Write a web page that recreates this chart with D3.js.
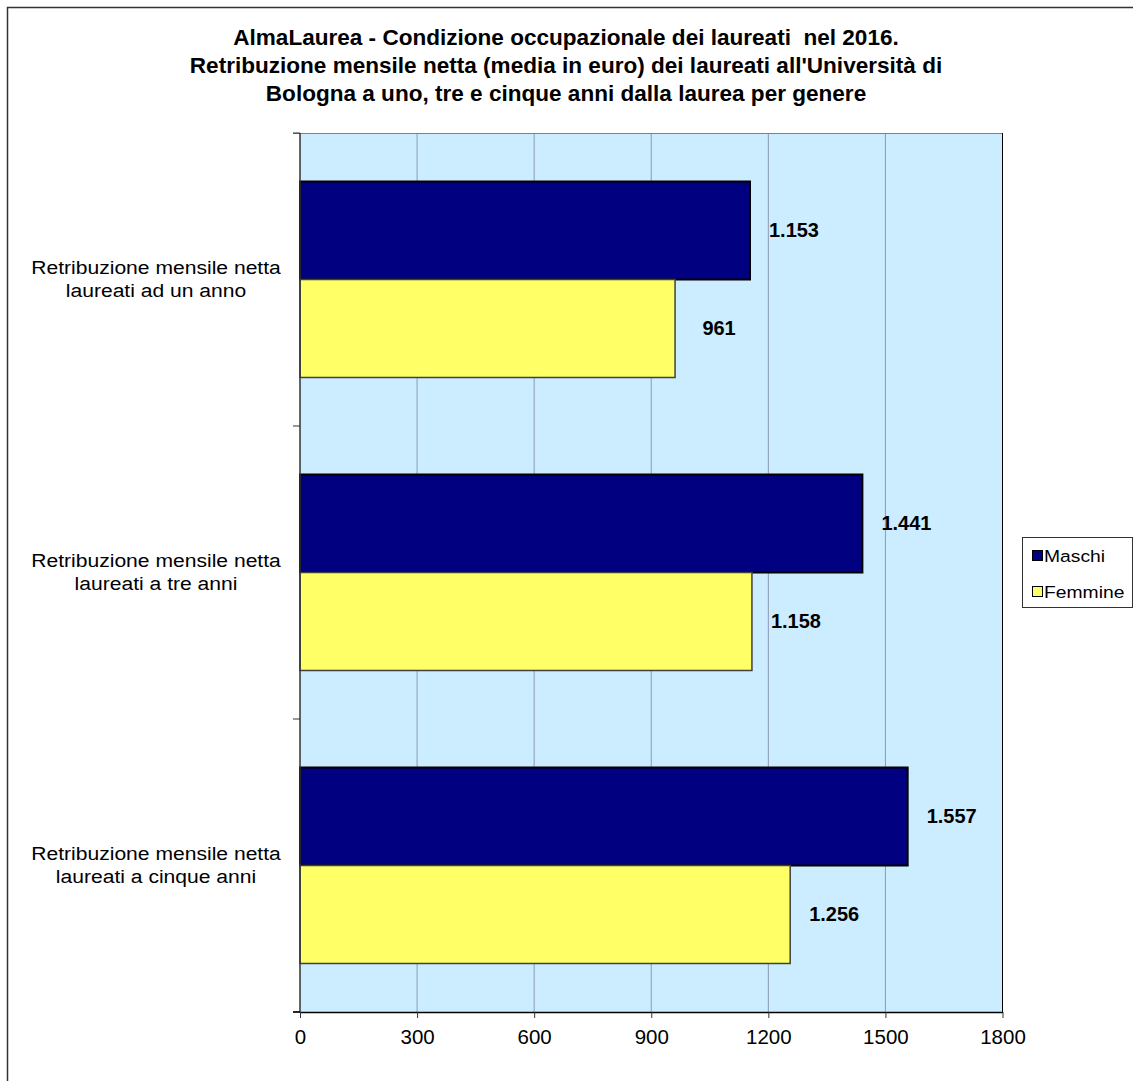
<!DOCTYPE html>
<html><head><meta charset="utf-8">
<script src="https://cdn.jsdelivr.net/npm/d3@7"></script>
<style>
body{margin:0;background:#fff}
svg{display:block}
text{font-family:"Liberation Sans",Arial,sans-serif;fill:#000;white-space:pre}
</style>
</head><body>
<svg id="chart" width="1133" height="1081"></svg>
<script>
// ---- data ----
const titleLines = [
  "AlmaLaurea - Condizione occupazionale dei laureati  nel 2016.",
  "Retribuzione mensile netta (media in euro) dei laureati all'Università di",
  "Bologna a uno, tre e cinque anni dalla laurea per genere"
];
const categories = [
  ["Retribuzione mensile netta", "laureati ad un anno"],
  ["Retribuzione mensile netta", "laureati a tre anni"],
  ["Retribuzione mensile netta", "laureati a cinque anni"]
];
const seriesNames = ["Maschi", "Femmine"];
const maschi = [1153, 1441, 1557];
const femmine = [961, 1158, 1256];
const xTicks = [0, 300, 600, 900, 1200, 1500, 1800];
const seriesColors = ["#000080", "#FFFF66"];
const seriesStroke = ["#000000", "#404040"];

// ---- layout ----
const W = 1133, H = 1081;
const plot = {left: 300, right: 1002.5, top: 133, bottom: 1012};
const svg = d3.select("#chart");

const fmt = d3.formatLocale({decimal: ",", thousands: ".", grouping: [3], currency: ["€", ""]}).format(",d");

function sText(g, x, y, str, opt) {
  return g.append("text")
    .attr("transform", `translate(${x},${y}) scale(${opt.sx || 1},1)`)
    .attr("text-anchor", opt.anchor || "start")
    .attr("font-size", opt.size)
    .attr("font-weight", opt.bold ? "bold" : "normal")
    .attr("dy", opt.dy || 0)
    .text(str);
}

// outer frame (extends beyond the visible area on right/bottom)
svg.append("rect").attr("x", 7.5).attr("y", 7.5).attr("width", W + 50).attr("height", H + 50)
  .attr("fill", "#fff").attr("stroke", "#333").attr("stroke-width", 1.5);

// scales
const catKeys = categories.map((c, i) => "c" + i);
const x = d3.scaleLinear().domain([0, 1800]).range([plot.left, plot.right]);
const y0 = d3.scaleBand().domain(catKeys).range([plot.top, plot.bottom]).padding(0);
const y1 = d3.scaleBand().domain(seriesNames).range([0, y0.bandwidth()]).paddingInner(0).paddingOuter(0.495);

// plot background
svg.append("rect").attr("x", plot.left).attr("y", plot.top)
  .attr("width", plot.right - plot.left).attr("height", plot.bottom - plot.top)
  .attr("fill", "#CCECFF");

// gridlines
svg.append("g").selectAll("line").data(xTicks.filter(t => t > 0 && t < 1800)).join("line")
  .attr("x1", d => x(d)).attr("x2", d => x(d))
  .attr("y1", plot.top).attr("y2", plot.bottom)
  .attr("stroke", "#8A9BB2").attr("stroke-width", 1);

// plot border top/right
svg.append("line").attr("x1", plot.left - 7).attr("x2", plot.right).attr("y1", plot.top + 0.5).attr("y2", plot.top + 0.5)
  .attr("stroke", "#808080").attr("stroke-width", 1);
svg.append("line").attr("x1", plot.right).attr("x2", plot.right).attr("y1", plot.top).attr("y2", plot.bottom)
  .attr("stroke", "#000").attr("stroke-width", 1);

// bars
const series = [maschi, femmine];
const groups = svg.append("g").selectAll("g").data(catKeys).join("g")
  .attr("transform", d => `translate(0,${y0(d)})`);
groups.selectAll("rect").data((d, i) => seriesNames.map((s, j) => ({s, j, v: series[j][i]}))).join("rect")
  .attr("x", x(0))
  .attr("y", d => y1(d.s))
  .attr("width", d => x(d.v) - x(0))
  .attr("height", y1.bandwidth())
  .attr("fill", d => seriesColors[d.j])
  .attr("stroke", d => seriesStroke[d.j])
  .attr("stroke-width", d => d.j === 0 ? 2 : 1.5);

// value labels
groups.each(function(k, i) {
  const g = d3.select(this);
  seriesNames.forEach((s, j) => {
    const v = series[j][i];
    sText(g, x(v) + 44, y1(s) + y1.bandwidth() / 2, fmt(v), {size: 19.4, bold: true, sx: 1.03, anchor: "middle", dy: "0.36em"});
  });
});

// category axis (left)
svg.append("line").attr("x1", plot.left).attr("x2", plot.left).attr("y1", plot.top).attr("y2", plot.bottom)
  .attr("stroke", "#333").attr("stroke-width", 1.5);
const catTicks = catKeys.map(k => y0(k)).concat([y0.range()[1]]);
svg.append("g").selectAll("line").data(catTicks).join("line")
  .attr("x1", plot.left - 7).attr("x2", plot.left)
  .attr("y1", d => d).attr("y2", d => d)
  .attr("stroke", "#333").attr("stroke-width", 1);

// category labels
categories.forEach((lines, i) => {
  const cy = y0(catKeys[i]) + y0.bandwidth() / 2;
  lines.forEach((ln, li) => {
    sText(svg, 156, cy - 6 + li * 23, ln, {size: 19, sx: 1.11, anchor: "middle"});
  });
});

// x axis
const xAxis = d3.axisBottom(x).tickValues(xTicks).tickSizeInner(6).tickSizeOuter(0).tickPadding(11.5).tickFormat(d3.format("d"));
const xg = svg.append("g").attr("transform", `translate(0,${plot.bottom})`).call(xAxis);
xg.select(".domain").attr("stroke", "#000").attr("stroke-width", 1.5);
xg.selectAll(".tick line").attr("stroke", "#333");
xg.selectAll(".tick text").attr("font-size", 20.5).attr("font-family", '"Liberation Sans",Arial,sans-serif').attr("fill", "#000");
svg.append("line").attr("x1", plot.left - 7).attr("x2", plot.left).attr("y1", plot.bottom).attr("y2", plot.bottom)
  .attr("stroke", "#000").attr("stroke-width", 1.5);

// title
titleLines.forEach((t, i) => {
  sText(svg, 566, 45 + i * 28, t, {size: 21.7, bold: true, sx: 1.04, anchor: "middle"});
});

// legend
const leg = {x: 1022, y: 537, w: 110, h: 70};
svg.append("rect").attr("x", leg.x + 0.5).attr("y", leg.y + 0.5).attr("width", leg.w).attr("height", leg.h)
  .attr("fill", "#fff").attr("stroke", "#333").attr("stroke-width", 1);
seriesNames.forEach((s, i) => {
  svg.append("rect").attr("x", leg.x + 10.5).attr("y", leg.y + 13.5 + i * 36).attr("width", 10).attr("height", 10)
    .attr("fill", seriesColors[i]).attr("stroke", "#000").attr("stroke-width", 1);
  sText(svg, leg.x + 22, leg.y + 24.5 + i * 36, s, {size: 16.5, sx: 1.17});
});
</script>
</body></html>
